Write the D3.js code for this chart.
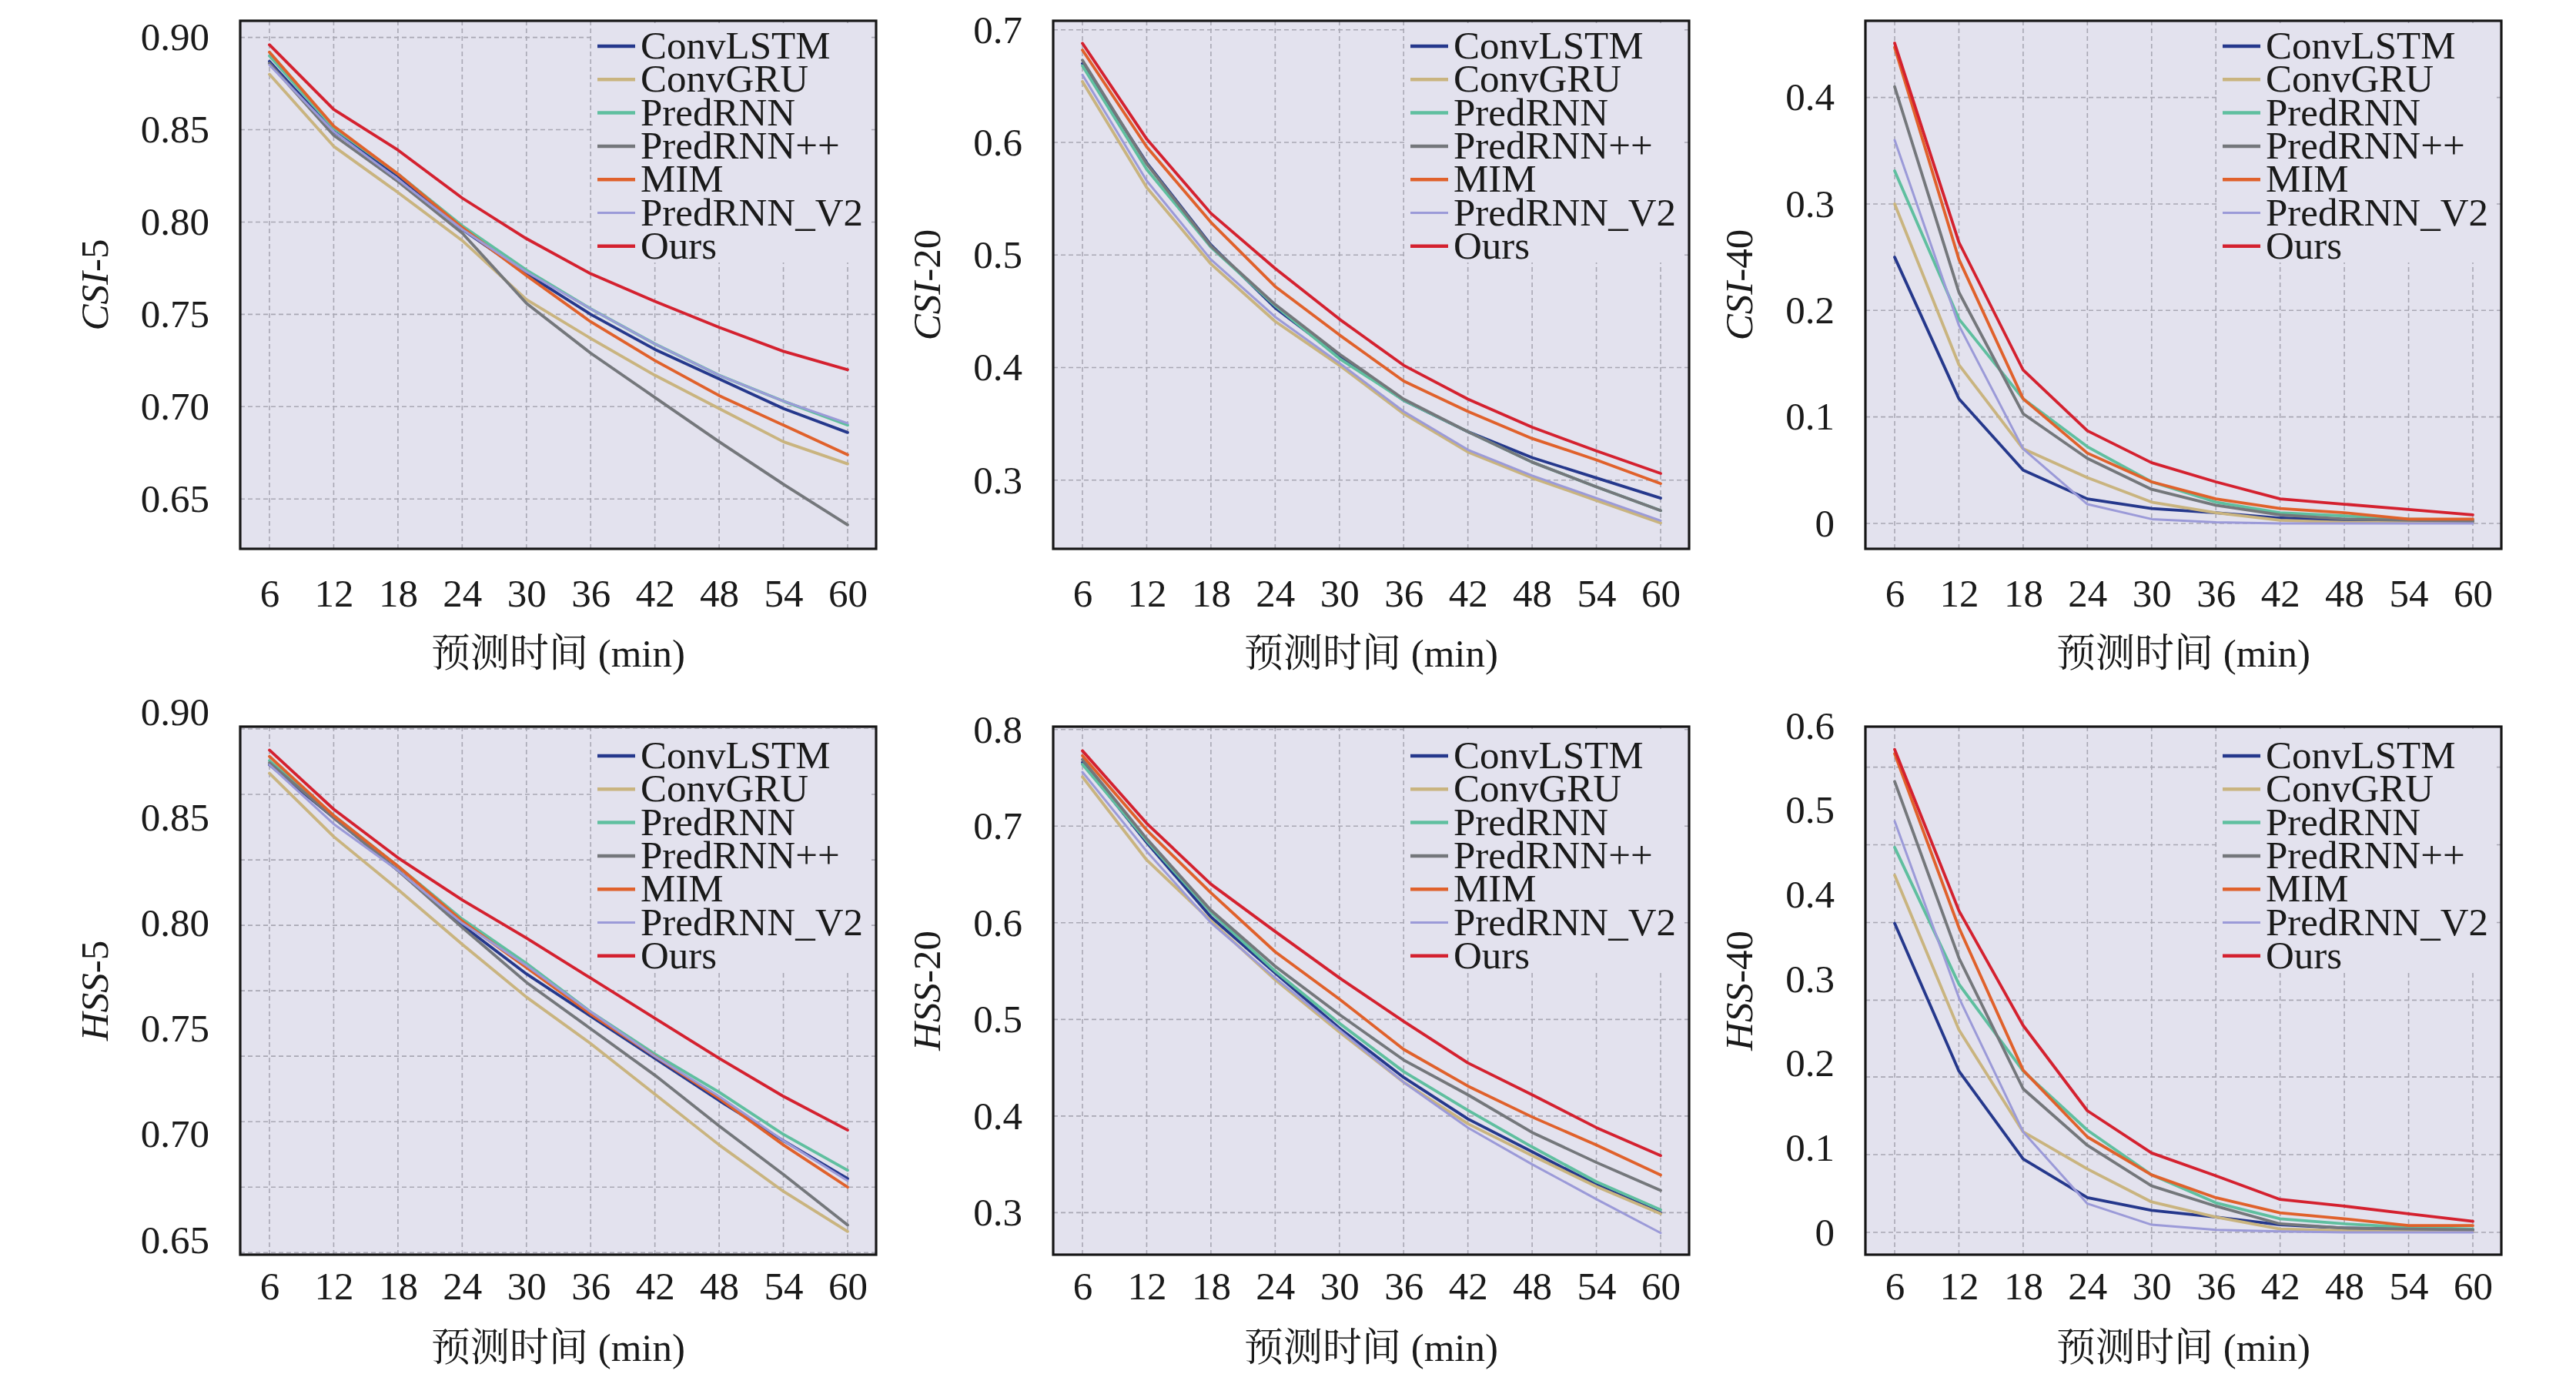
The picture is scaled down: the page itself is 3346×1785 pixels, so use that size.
<!DOCTYPE html>
<html lang="zh">
<head>
<meta charset="UTF-8">
<title>CSI / HSS 预测时间曲线</title>
<script src="https://d3js.org/d3.v7.min.js"></script>
<style>
  body { margin: 0; background: #fff; }
  svg text { font-family: "Liberation Serif", "Times New Roman", "Noto Serif CJK SC", "Noto Sans CJK SC", serif; fill: #1a1a1a; }
  .grid line { stroke: #a9a8b4; stroke-width: 1.6; stroke-dasharray: 6 4; }
  .series { fill: none; stroke-linejoin: round; stroke-linecap: round; }
</style>
</head>
<body>
<svg id="chart" width="3346" height="1785"></svg>
<script>
// prediction lead time (min)
const steps = [6, 12, 18, 24, 30, 36, 42, 48, 54, 60];
const models = ["ConvLSTM", "ConvGRU", "PredRNN", "PredRNN++", "MIM", "PredRNN_V2", "Ours"];
const colors = ["#25388c", "#c9b47f", "#5fbf9f", "#74777b", "#e0612b", "#9b9ad8", "#d4212f"];

// one row per model, same order as `models`
const csi5 = [
  [0.887, 0.849, 0.825, 0.796, 0.772, 0.750, 0.731, 0.715, 0.699, 0.686],
  [0.880, 0.841, 0.816, 0.790, 0.758, 0.737, 0.717, 0.699, 0.681, 0.669],
  [0.890, 0.851, 0.826, 0.798, 0.774, 0.753, 0.734, 0.717, 0.703, 0.690],
  [0.886, 0.847, 0.822, 0.794, 0.756, 0.729, 0.705, 0.681, 0.658, 0.636],
  [0.892, 0.852, 0.826, 0.797, 0.771, 0.746, 0.725, 0.706, 0.690, 0.674],
  [0.885, 0.849, 0.823, 0.796, 0.773, 0.753, 0.734, 0.717, 0.703, 0.691],
  [0.896, 0.861, 0.839, 0.813, 0.791, 0.772, 0.757, 0.743, 0.730, 0.720]
];
const csi20 = [
  [0.670, 0.582, 0.509, 0.453, 0.410, 0.371, 0.343, 0.320, 0.302, 0.284],
  [0.654, 0.560, 0.492, 0.441, 0.402, 0.359, 0.325, 0.302, 0.282, 0.262],
  [0.668, 0.576, 0.507, 0.455, 0.408, 0.371, 0.343, 0.316, 0.294, 0.273],
  [0.673, 0.581, 0.508, 0.456, 0.412, 0.372, 0.343, 0.316, 0.294, 0.273],
  [0.682, 0.596, 0.529, 0.472, 0.429, 0.388, 0.361, 0.337, 0.318, 0.297],
  [0.660, 0.566, 0.496, 0.445, 0.404, 0.361, 0.327, 0.304, 0.284, 0.264],
  [0.688, 0.603, 0.537, 0.488, 0.443, 0.402, 0.372, 0.347, 0.326, 0.306]
];
const csi40 = [
  [0.250, 0.117, 0.050, 0.023, 0.014, 0.010, 0.005, 0.003, 0.003, 0.002],
  [0.300, 0.149, 0.070, 0.043, 0.020, 0.010, 0.003, 0.001, 0.001, 0.001],
  [0.331, 0.192, 0.117, 0.072, 0.039, 0.020, 0.010, 0.007, 0.004, 0.003],
  [0.410, 0.217, 0.103, 0.061, 0.032, 0.017, 0.008, 0.004, 0.003, 0.002],
  [0.447, 0.248, 0.117, 0.066, 0.039, 0.023, 0.014, 0.010, 0.004, 0.004],
  [0.360, 0.186, 0.070, 0.018, 0.004, 0.001, 0.000, 0.000, 0.000, 0.000],
  [0.451, 0.264, 0.144, 0.087, 0.057, 0.039, 0.023, 0.018, 0.013, 0.008]
];
const hss5 = [
  [0.875, 0.850, 0.825, 0.799, 0.776, 0.756, 0.736, 0.716, 0.697, 0.679],
  [0.871, 0.841, 0.816, 0.790, 0.765, 0.743, 0.719, 0.695, 0.673, 0.654],
  [0.877, 0.851, 0.827, 0.802, 0.781, 0.758, 0.738, 0.720, 0.700, 0.683],
  [0.876, 0.850, 0.825, 0.798, 0.772, 0.750, 0.728, 0.704, 0.681, 0.657],
  [0.879, 0.851, 0.827, 0.801, 0.779, 0.757, 0.737, 0.717, 0.695, 0.675],
  [0.875, 0.847, 0.825, 0.800, 0.780, 0.758, 0.737, 0.718, 0.697, 0.678],
  [0.882, 0.854, 0.831, 0.811, 0.793, 0.774, 0.755, 0.736, 0.718, 0.702]
];
const hss20 = [
  [0.766, 0.683, 0.606, 0.548, 0.491, 0.440, 0.397, 0.363, 0.329, 0.300],
  [0.751, 0.665, 0.602, 0.541, 0.487, 0.435, 0.392, 0.359, 0.327, 0.299],
  [0.764, 0.685, 0.611, 0.550, 0.496, 0.446, 0.406, 0.368, 0.332, 0.303],
  [0.769, 0.687, 0.613, 0.555, 0.505, 0.458, 0.422, 0.383, 0.352, 0.323],
  [0.773, 0.696, 0.631, 0.570, 0.521, 0.469, 0.431, 0.399, 0.370, 0.339],
  [0.756, 0.674, 0.600, 0.543, 0.489, 0.435, 0.388, 0.350, 0.314, 0.279],
  [0.778, 0.703, 0.640, 0.591, 0.543, 0.498, 0.455, 0.422, 0.388, 0.359]
];
const hss40 = [
  [0.366, 0.191, 0.087, 0.041, 0.026, 0.018, 0.009, 0.005, 0.004, 0.003],
  [0.423, 0.240, 0.119, 0.075, 0.036, 0.018, 0.004, 0.002, 0.001, 0.001],
  [0.456, 0.294, 0.191, 0.121, 0.068, 0.035, 0.016, 0.010, 0.006, 0.004],
  [0.534, 0.325, 0.170, 0.103, 0.055, 0.031, 0.010, 0.005, 0.004, 0.003],
  [0.567, 0.361, 0.192, 0.113, 0.068, 0.041, 0.023, 0.016, 0.008, 0.008],
  [0.487, 0.278, 0.119, 0.034, 0.009, 0.003, 0.001, 0.000, 0.000, 0.000],
  [0.572, 0.381, 0.245, 0.144, 0.094, 0.067, 0.039, 0.031, 0.022, 0.013]
];

// y tick labels and the (partly offset) dashed grid values per panel
const ticksCsi5 = [0.65, 0.70, 0.75, 0.80, 0.85, 0.90];
const ticksCsi20 = [0.3, 0.4, 0.5, 0.6, 0.7];
const ticksCsi40 = [0, 0.1, 0.2, 0.3, 0.4];
const ticksHss5 = [0.65, 0.70, 0.75, 0.80, 0.85, 0.90];
const ticksHss20 = [0.3, 0.4, 0.5, 0.6, 0.7, 0.8];
const ticksHss40 = [0, 0.1, 0.2, 0.3, 0.4, 0.5, 0.6];
const gridHss5 = [0.644, 0.675, 0.706, 0.737, 0.768, 0.799, 0.830, 0.861, 0.892];
const gridHss40 = [0, 0.092, 0.184, 0.275, 0.367, 0.459, 0.551];

const panels = [
  { name: "CSI", thr: "5",  data: csi5,  ticks: ticksCsi5,  grid: ticksCsi5,  fmt: ".2f", domain: [0.623, 0.909],   row: 0, col: 0 },
  { name: "CSI", thr: "20", data: csi20, ticks: ticksCsi20, grid: ticksCsi20, fmt: ".1f", domain: [0.239, 0.708],   row: 0, col: 1 },
  { name: "CSI", thr: "40", data: csi40, ticks: ticksCsi40, grid: ticksCsi40, fmt: ".1f", domain: [-0.0239, 0.472], row: 0, col: 2 },
  { name: "HSS", thr: "5",  data: hss5,  ticks: ticksHss5,  grid: gridHss5,   fmt: ".2f", domain: [0.643, 0.8931],  row: 1, col: 0 },
  { name: "HSS", thr: "20", data: hss20, ticks: ticksHss20, grid: ticksHss20, fmt: ".1f", domain: [0.2565, 0.803],  row: 1, col: 1 },
  { name: "HSS", thr: "40", data: hss40, ticks: ticksHss40, grid: gridHss40,  fmt: ".1f", domain: [-0.0265, 0.599], row: 1, col: 2 }
];

// layout
const W = 826, H = 686;
const lefts = [312, 1368, 2423];
const rows = [
  { top: 27,  xPad: 39, titleBase: 153, legTop: 33, legBoxBottom: 314 },
  { top: 944, xPad: 22, titleBase: 138, legTop: 38, legBoxBottom: 317 }
];
const FS = 51;
const bg = "#e3e2ee";

const svg = d3.select("#chart");

panels.forEach(p => {
  const left = lefts[p.col], R = rows[p.row], top = R.top;
  const g = svg.append("g").attr("transform", `translate(${left},${top})`);

  const x = d3.scaleLinear().domain([6, 60]).range([38, 789]);
  const y = d3.scaleLinear().domain(p.domain).range([H, 0]);

  g.append("rect").attr("width", W).attr("height", H).attr("fill", bg);

  // dashed grid
  const grid = g.append("g").attr("class", "grid");
  grid.selectAll(".gy").data(p.grid.filter(v => y(v) >= 0 && y(v) <= H)).join("line")
    .attr("x1", 0).attr("x2", W).attr("y1", d => y(d)).attr("y2", d => y(d));
  grid.selectAll(".gx").data(steps).join("line")
    .attr("x1", d => x(d)).attr("x2", d => x(d)).attr("y1", 0).attr("y2", H);

  // series
  const line = d3.line().x((d, i) => x(steps[i])).y(d => y(d));
  g.selectAll(".series").data(p.data).join("path")
    .attr("class", "series")
    .attr("d", line)
    .attr("stroke", (d, i) => colors[i])
    .attr("stroke-width", (d, i) => models[i] === "PredRNN_V2" ? 3 : 3.8);

  // legend
  const leg = g.append("g");
  leg.append("rect").attr("x", 456).attr("y", 3).attr("width", 818 - 456).attr("height", R.legBoxBottom - 3).attr("fill", bg);
  models.forEach((m, i) => {
    const ly = R.legTop + i * 43.3;
    leg.append("line").attr("x1", 464).attr("x2", 513).attr("y1", ly).attr("y2", ly)
      .attr("stroke", colors[i]).attr("stroke-width", m === "PredRNN_V2" ? 3.2 : 4.5);
    leg.append("text").attr("x", 520).attr("y", ly + 16).attr("font-size", FS).text(m);
  });

  // frame
  g.append("rect").attr("width", W).attr("height", H).attr("fill", "none")
    .attr("stroke", "#161616").attr("stroke-width", 3.2);

  // axes (labels only)
  const fmt = d => d === 0 ? "0" : d3.format(p.fmt)(d);
  const ya = g.append("g").call(d3.axisLeft(y).tickValues(p.ticks).tickSize(0).tickPadding(40).tickFormat(fmt));
  ya.select(".domain").remove();
  ya.selectAll("text").attr("font-size", FS).attr("fill", "#1a1a1a");
  ya.attr("font-family", null);

  const xa = g.append("g").attr("transform", `translate(0,${H})`)
    .call(d3.axisBottom(x).tickValues(steps).tickSize(0).tickPadding(R.xPad).tickFormat(d3.format("d")));
  xa.select(".domain").remove();
  xa.selectAll("text").attr("font-size", FS).attr("fill", "#1a1a1a");
  xa.attr("font-family", null);

  // axis titles
  let tw = 0;
  ya.selectAll("text").each(function () { tw = Math.max(tw, this.getComputedTextLength()); });
  const yt = g.append("text")
    .attr("transform", `translate(${-(40 + tw + 60)},${H / 2}) rotate(-90)`)
    .attr("text-anchor", "middle").attr("dominant-baseline", "central").attr("font-size", FS);
  yt.append("tspan").attr("font-style", "italic").text(p.name);
  yt.append("tspan").text("-" + p.thr);

  g.append("text").attr("x", W / 2).attr("y", H + R.titleBase)
    .attr("text-anchor", "middle").attr("font-size", FS).text("预测时间 (min)");
});
</script>
</body>
</html>
